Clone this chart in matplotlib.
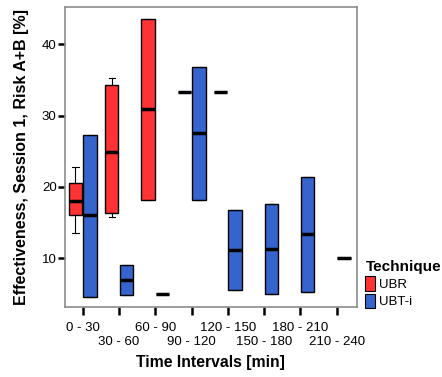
import numpy as np
import matplotlib.pyplot as plt
from matplotlib.patches import Patch

plt.rcParams['font.family'] = ['Liberation Sans', 'DejaVu Sans']

categories = ['0 - 30', '30 - 60', '60 - 90', '90 - 120',
              '120 - 150', '150 - 180', '180 - 210', '210 - 240']

# UBR (red): box quartiles, median and whiskers per interval (nan = no data)
ubr_q1 = [16.0, 16.3, 18.2, 33.3, 33.3, np.nan, np.nan, np.nan]
ubr_med = [18.0, 24.9, 30.9, 33.3, 33.3, np.nan, np.nan, np.nan]
ubr_q3 = [20.5, 34.3, 43.6, 33.3, 33.3, np.nan, np.nan, np.nan]
ubr_lo = [13.6, 15.8, 18.2, 33.3, 33.3, np.nan, np.nan, np.nan]
ubr_hi = [22.8, 35.2, 43.6, 33.3, 33.3, np.nan, np.nan, np.nan]

# UBT-i (blue)
ubt_q1 = [4.5, 4.8, 5.0, 18.2, 5.6, 5.0, 5.3, 10.0]
ubt_med = [16.1, 7.0, 5.0, 27.5, 11.2, 11.3, 13.4, 10.0]
ubt_q3 = [27.3, 9.1, 5.0, 36.8, 16.7, 17.6, 21.4, 10.0]
ubt_lo = ubt_q1
ubt_hi = ubt_q3

techniques = ['UBR', 'UBT-i']
colors = ['#FF3333', '#3464CC']

fig = plt.figure(figsize=(4.42, 3.77), dpi=100)
ax = fig.add_axes([0.147, 0.1865, 0.66, 0.7945])

def draw(q1, med, q3, lo, hi, offset, color):
    stats, pos = [], []
    for i in range(len(categories)):
        if np.isnan(med[i]):
            continue
        stats.append(dict(q1=q1[i], med=med[i], q3=q3[i], whislo=lo[i], whishi=hi[i], fliers=[]))
        pos.append(i + offset)
    ax.bxp(stats, positions=pos, widths=0.37, patch_artist=True, manage_ticks=False,
           capwidths=0.18,
           boxprops=dict(facecolor=color, edgecolor='black', linewidth=1),
           medianprops=dict(color='black', linewidth=2.5),
           whiskerprops=dict(color='black', linewidth=0.8),
           capprops=dict(color='black', linewidth=0.8))

draw(ubr_q1, ubr_med, ubr_q3, ubr_lo, ubr_hi, -0.2, colors[0])
draw(ubt_q1, ubt_med, ubt_q3, ubt_lo, ubt_hi, 0.2, colors[1])

ax.set_xlim(-0.49, 7.55)
ax.set_ylim(3.2, 45.2)
ax.set_yticks([10, 20, 30, 40])

# staggered x labels: even intervals as major ticks, odd ones as minor ticks with larger pad
idx = np.arange(len(categories))
ax.set_xticks(idx[::2])
ax.set_xticklabels(categories[::2], fontsize=9.5)
ax.set_xticks(idx[1::2], minor=True)
ax.set_xticklabels(categories[1::2], minor=True, fontsize=9.5)
ax.tick_params(axis='x', which='major', length=6, width=1.8, pad=5)
ax.tick_params(axis='x', which='minor', length=6, width=1.8, pad=15)
ax.tick_params(axis='y', labelsize=9.5, length=5, width=1.8, pad=1)
for s in ax.spines.values():
    s.set_color('#8c8c8c')
    s.set_linewidth(1.2)

ax.set_xlabel('Time Intervals [min]', fontsize=11.3, fontweight='bold', labelpad=5)
ax.set_ylabel('Effectiveness, Session 1, Risk A+B [%]', fontsize=11.5, fontweight='bold', labelpad=9)

handles = [Patch(facecolor=c, edgecolor='black', linewidth=0.8) for c in colors]
leg = ax.legend(handles, techniques, title='Technique', loc='upper left',
                bbox_to_anchor=(1.012, 0.175), frameon=False, fontsize=9.5,
                handlelength=0.75, handleheight=1.35, handletextpad=0.3,
                labelspacing=0.2, borderaxespad=0.2, borderpad=0.2)
leg.get_title().set_fontweight('bold')
leg.get_title().set_fontsize(11)
leg._legend_box.align = 'left'

fig.savefig('out.png', dpi=100)
